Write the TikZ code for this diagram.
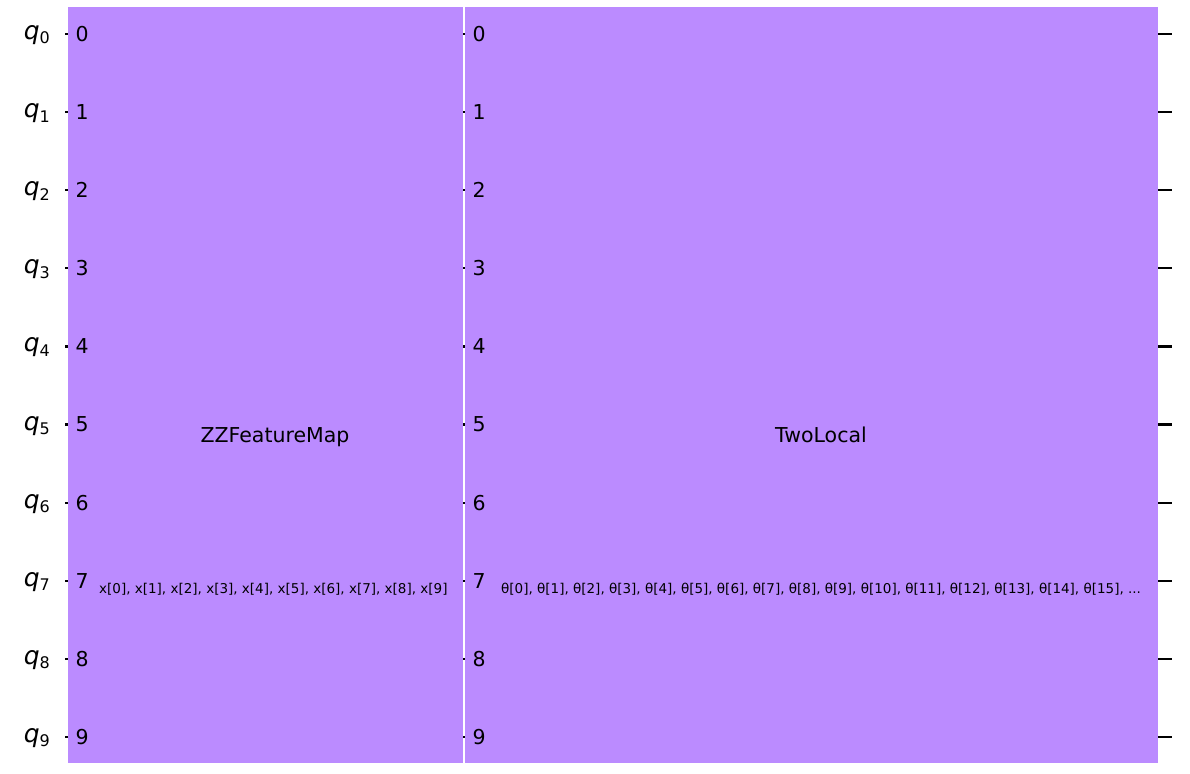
\documentclass[tikz,border=0pt]{standalone}
\usepackage{fontspec}
\setmainfont{DejaVu Sans}
\usetikzlibrary{positioning}
\definecolor{gatepurple}{HTML}{BB8BFF}

\begin{document}
\begin{tikzpicture}[x=1pt,y=-1pt]
\useasboundingbox (0,0) rectangle (1190,773);
% Cables de los cúbits
\foreach \i in {0,...,9} {
    \coordinate (win\i) at (65,{34+78.1*\i});
    \coordinate (wout\i) at (1172,{34+78.1*\i});
    \draw[line width=2.2pt] (win\i) -- (wout\i);
    \node[anchor=base east, inner sep=0] (q\i) at (50,{39.5+78.1*\i})
        {\fontsize{25}{25}\selectfont\itshape q\raisebox{-4.5pt}{\upshape\fontsize{16}{16}\selectfont\i}};
}

% A: ZZFeatureMap
\begin{scope}
\fill[gatepurple] (68,7) rectangle (463,763);
\foreach \i in {0,...,9} {
    \node[anchor=west, inner sep=0] (za\i) at (75.5,{34+78.1*\i}) {\fontsize{20.5}{20.5}\selectfont\i};
}
\node[anchor=base, inner sep=0] (zzfm) at (275,442.3) {\fontsize{20.5}{20.5}\selectfont ZZFeatureMap};
\node[anchor=base west, inner sep=0] (zzpar) at (99,593) {\fontsize{13.5}{13.5}\selectfont x[0], x[1], x[2], x[3], x[4], x[5], x[6], x[7], x[8], x[9]};
\end{scope}

% B: TwoLocal
\begin{scope}
\fill[gatepurple] (465,7) rectangle (1158,763);
\foreach \i in {0,...,9} {
    \node[anchor=west, inner sep=0] (tl\i) at (472.5,{34+78.1*\i}) {\fontsize{20.5}{20.5}\selectfont\i};
}
\node[anchor=base, inner sep=0] (twol) at (821,442.3) {\fontsize{20.5}{20.5}\selectfont TwoLocal};
\node[anchor=base west, inner sep=0] (tlpar) at (501,593) {\fontsize{13.5}{13.5}\selectfont θ[0], θ[1], θ[2], θ[3], θ[4], θ[5], θ[6], θ[7], θ[8], θ[9], θ[10], θ[11], θ[12], θ[13], θ[14], θ[15], ...};
\end{scope}
\end{tikzpicture}
\end{document}
